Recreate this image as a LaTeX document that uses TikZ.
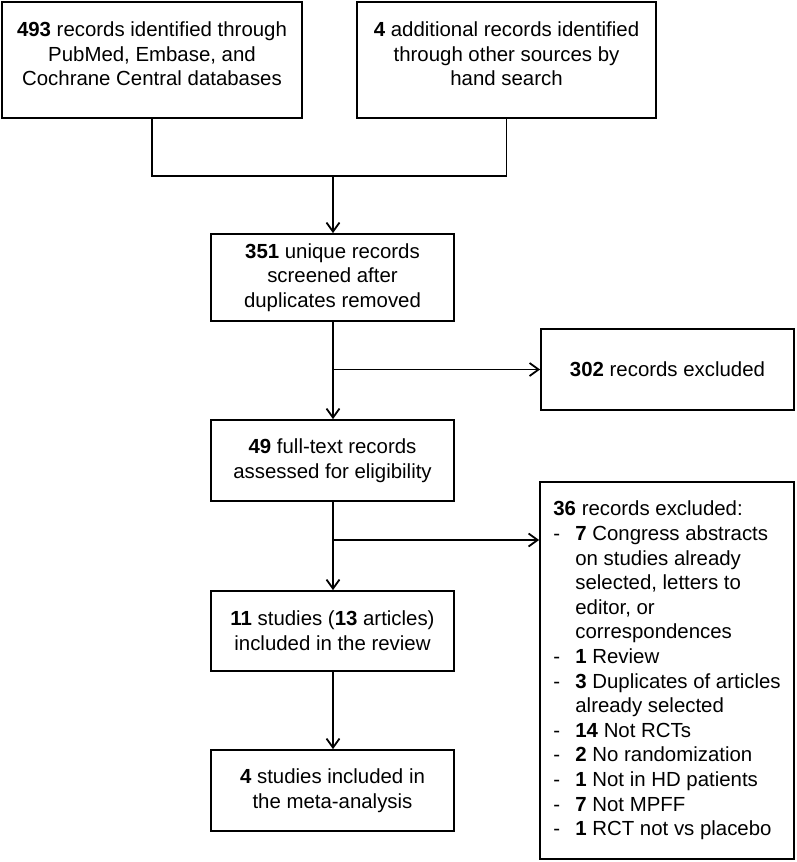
\documentclass[tikz,border=0pt]{standalone}
\usepackage{fontspec}
\setmainfont{Liberation Sans}
\usetikzlibrary{arrows.meta, positioning}

\newcommand{\exdash}{\makebox[22pt][l]{-}}
\newcommand{\exind}{\hspace*{22pt}}

\tikzset{
  box/.style = {draw, line width=1.8pt, align=center, inner sep=0pt},
  arr/.style = {-{Straight Barb[length=9pt, width=13pt]}},
}

\begin{document}
\begin{tikzpicture}[x=1pt, y=-1pt, line width=1.8pt,
    font=\fontsize{20.4}{24.6}\selectfont]
    \useasboundingbox (0,0) rectangle (796,862);

    \node[box, minimum width=300pt, minimum height=116pt, text depth=12pt] (search) at (152,60)
        {\textbf{493} records identified through\\ PubMed, Embase, and\\ Cochrane Central databases};
    \node[box, minimum width=299pt, minimum height=116pt, text depth=12pt] (hand) at (506.5,60)
        {\textbf{4} additional records identified\\ through other sources by\\ hand search};

    \node[box, minimum width=243pt, minimum height=87pt] (unique) at (332.5,277.5)
        {\textbf{351} unique records\\ screened after\\ duplicates removed};
    \node[box, minimum width=253pt, minimum height=81pt] (excl) at (667.5,369.5)
        {\textbf{302} records excluded};
    \node[box, minimum width=243pt, minimum height=81pt] (fulltext) at (332.5,460.5)
        {\textbf{49} full-text records\\ assessed for eligibility};
    \node[box, minimum width=254pt, minimum height=377pt, align=left] (why) at (667,670.5)
        {\textbf{36} records excluded:\\
         \exdash\textbf{7} Congress abstracts\\
         \exind on studies already\\
         \exind selected, letters to\\
         \exind editor, or\\
         \exind correspondences\\
         \exdash\textbf{1} Review\\
         \exdash\textbf{3} Duplicates of articles\\
         \exind already selected\\
         \exdash\textbf{14} Not RCTs\\
         \exdash\textbf{2} No randomization\\
         \exdash\textbf{1} Not in HD patients\\
         \exdash\textbf{7} Not MPFF\\
         \exdash\textbf{1} RCT not vs placebo};
    \node[box, minimum width=243pt, minimum height=80pt] (studies) at (332.5,631)
        {\textbf{11} studies (\textbf{13} articles)\\ included in the review};
    \node[box, minimum width=243pt, minimum height=81pt] (meta) at (332.5,790.5)
        {\textbf{4} studies included in\\ the meta-analysis};

    \coordinate (join) at (333,176);
    \coordinate (split1) at (333,369.5);
    \coordinate (split2) at (333,540);

    \draw (search.south) |- (join) -| (hand.south);
    \draw[arr] (join) -- (join |- unique.north);
    \draw[arr] (unique.south -| join) -- (join |- fulltext.north);
    \draw[arr] (split1) -- (excl.west);
    \draw[arr] (fulltext.south -| join) -- (join |- studies.north);
    \draw[arr] (split2) -- (split2 -| why.west);
    \draw[arr] (studies.south -| join) -- (join |- meta.north);
\end{tikzpicture}
\end{document}
